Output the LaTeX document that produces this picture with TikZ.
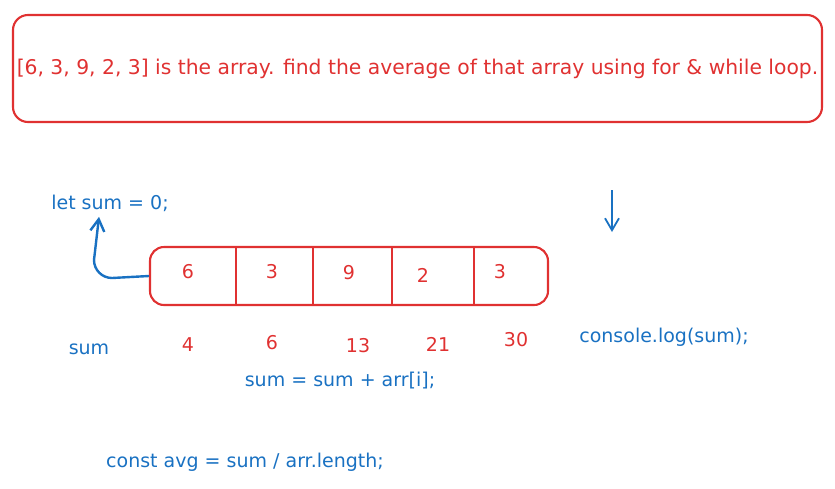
\documentclass[tikz,border=0pt]{standalone}
\usepackage{fontspec}
\setmainfont{DejaVu Sans}
\definecolor{sketchred}{RGB}{224,49,49}
\definecolor{sketchblue}{RGB}{25,113,194}
\usetikzlibrary{arrows.meta,positioning}

\begin{document}
\begin{tikzpicture}[x=1pt, y=-1pt,
    redtxt/.style={text=sketchred, font=\fontsize{19}{22}\selectfont},
    bluetxt/.style={text=sketchblue, font=\fontsize{19}{22}\selectfont},
    sketcharrow/.style={draw=sketchblue, line width=2.4pt, -{Straight Barb[length=12pt,width=14pt]}}]
    \useasboundingbox (0,0) rectangle (835,488);

    % Question box
    \node[draw=sketchred, line width=2.1pt, rounded corners=15pt, minimum width=809pt,
          minimum height=107pt, redtxt, font=\fontsize{20.3}{24}\selectfont] (question) at (417.5,68.5)
        {[6, 3, 9, 2, 3] is the array. find the average of that array using for \& while loop.};

    % Array
    \node[draw=sketchred, line width=2.1pt, rounded corners=14pt, minimum width=398pt,
          minimum height=58pt] (arr) at (349,276) {};
    \foreach \x in {236,313,392,474}
        \draw[sketchred, line width=2.1pt] (\x,247) -- (\x,305);

    \node[redtxt] (cellA) at (188,272) {6};
    \node[redtxt] (cellB) at (272,272) {3};
    \node[redtxt] (cellC) at (349,273) {9};
    \node[redtxt] (cellD) at (423,275) {2};
    \node[redtxt] (cellE) at (500,272) {3};

    % Start value
    \node[bluetxt] (letsum) at (110,203) {let sum = 0;};
    \draw[sketcharrow] (arr.west) -- (112,278) to[out=180, in=-90] (94,260)
        -- ([xshift=-11pt,yshift=-2pt]letsum.south);

    % Down arrow
    \coordinate (downtop) at (612,190);
    \coordinate (downend) at (612,232);
    \draw[sketcharrow, line width=1.8pt] (downtop) -- (downend);

    % Running sums
    \node[bluetxt] (sumlabel) at (89,349) {sum};
    \node[redtxt] (sumA) at (188,345) {4};
    \node[redtxt] (sumB) at (272,343) {6};
    \node[redtxt] (sumC) at (358,346) {13};
    \node[redtxt] (sumD) at (438,344) {21};
    \node[redtxt] (sumE) at (516,340) {30};

    % Code lines
    \node[bluetxt] (loopline) at (340,381) {sum = sum + arr[i];};
    \node[bluetxt] (logline) at (664,337) {console.log(sum);};
    \node[bluetxt] (avgline) at (245,462) {const avg = sum / arr.length;};
\end{tikzpicture}
\end{document}
